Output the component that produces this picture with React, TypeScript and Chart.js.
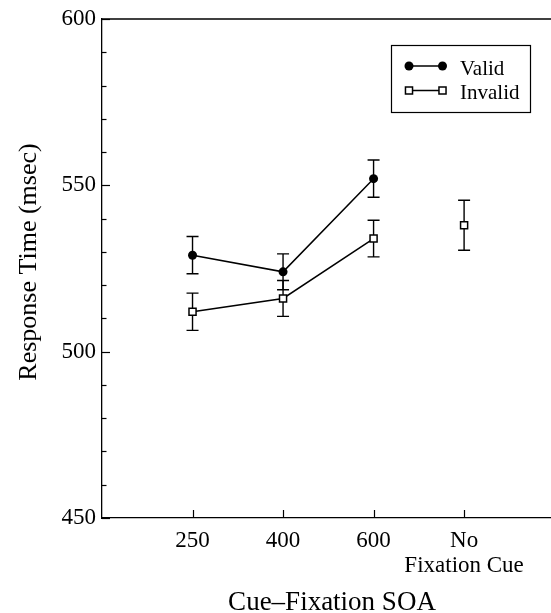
import React, { useEffect, useRef } from 'react';
import { Chart, registerables } from 'chart.js';

Chart.register(...registerables);

// ---- data ----
const categories: (string | string[])[] = ['250', '400', '600', ['No', 'Fixation Cue']];
const validMeans = [529, 524, 552];
const validErrors = [5.6, 5.4, 5.6];
const invalidMeans = [512, 516, 534];
const invalidErrors = [5.6, 5.4, 5.5];
const noCueMeans = [538];
const noCueErrors = [7.5];
const yTicks = [450, 500, 550, 600];
const seriesLabels = ['Valid', 'Invalid'];
const xTitle = 'Cue\u2013Fixation SOA';
const yTitle = 'Response Time (msec)';

const FONT = '"Liberation Serif", "Times New Roman", serif';

const decor = {
  id: 'decor',
  beforeDatasetsDraw(chart: any) {
    const ctx = chart.ctx;
    const ys = chart.scales.y;
    ctx.save();
    ctx.strokeStyle = '#000';
    ctx.lineWidth = 1.4;
    chart.data.datasets.forEach((ds: any, di: number) => {
      const errs = ds.errors;
      if (!errs) return;
      const meta = chart.getDatasetMeta(di);
      meta.data.forEach((pt: any, i: number) => {
        const v = ds.data[i].y;
        const e = errs[i];
        const x = pt.x;
        const yt = ys.getPixelForValue(v + e);
        const yb = ys.getPixelForValue(v - e);
        ctx.beginPath();
        ctx.moveTo(x, yt);
        ctx.lineTo(x, yb);
        ctx.moveTo(x - 6, yt);
        ctx.lineTo(x + 6, yt);
        ctx.moveTo(x - 6, yb);
        ctx.lineTo(x + 6, yb);
        ctx.stroke();
      });
    });
    ctx.restore();
  },
  afterDraw(chart: any) {
    const ctx = chart.ctx;
    const { left, right, top, bottom } = chart.chartArea;
    const ys = chart.scales.y;
    const xs = chart.scales.x;
    ctx.save();
    ctx.strokeStyle = '#000';
    ctx.fillStyle = '#000';
    ctx.lineWidth = 1.3;
    // top frame line
    ctx.beginPath();
    ctx.moveTo(left, top);
    ctx.lineTo(right, top);
    ctx.stroke();
    // inward y ticks (major + minor)
    ctx.lineWidth = 1.2;
    for (let v = ys.min; v <= ys.max; v += 10) {
      const py = Math.round(ys.getPixelForValue(v)) + 0.5;
      const len = v % 50 === 0 ? 8 : 4.5;
      ctx.beginPath();
      ctx.moveTo(left, py);
      ctx.lineTo(left + len, py);
      ctx.stroke();
    }
    // inward x ticks
    categories.forEach((_, i) => {
      const px = Math.round(xs.getPixelForValue(i + 1)) + 0.5;
      ctx.beginPath();
      ctx.moveTo(px, bottom);
      ctx.lineTo(px, bottom - 8);
      ctx.stroke();
    });
    // axis titles
    ctx.font = `27px ${FONT}`;
    ctx.textAlign = 'center';
    ctx.textBaseline = 'alphabetic';
    ctx.fillText(xTitle, 332, 610);
    ctx.font = `26px ${FONT}`;
    ctx.save();
    ctx.translate(36, 262);
    ctx.rotate(-Math.PI / 2);
    ctx.fillText(yTitle, 0, 0);
    ctx.restore();
    // legend
    ctx.lineWidth = 1.2;
    ctx.strokeRect(391.5, 45.5, 139, 67);
    const rows = [66, 90.5];
    const baselines = [75, 99];
    chart.data.datasets.slice(0, 2).forEach((ds: any, i: number) => {
      const yy = rows[i];
      const x1 = 409, x2 = 442.5;
      ctx.lineWidth = 1.5;
      ctx.strokeStyle = ds.borderColor;
      ctx.beginPath();
      ctx.moveTo(x1, yy);
      ctx.lineTo(x2, yy);
      ctx.stroke();
      [x1, x2].forEach((mx) => {
        if (ds.pointStyle === 'circle') {
          ctx.fillStyle = ds.pointBackgroundColor;
          ctx.beginPath();
          ctx.arc(mx, yy, ds.pointRadius, 0, Math.PI * 2);
          ctx.fill();
        } else {
          const s = Math.SQRT1_2 * ds.pointRadius;
          ctx.fillStyle = ds.pointBackgroundColor;
          ctx.lineWidth = ds.pointBorderWidth;
          ctx.strokeStyle = ds.pointBorderColor;
          ctx.beginPath();
          ctx.rect(mx - s, yy - s, 2 * s, 2 * s);
          ctx.fill();
          ctx.stroke();
        }
      });
      ctx.fillStyle = '#000';
      ctx.font = `21px ${FONT}`;
      ctx.textAlign = 'left';
      ctx.fillText(seriesLabels[i], 460, baselines[i]);
    });
    ctx.restore();
  },
};

export default function App() {
  const ref = useRef<HTMLCanvasElement>(null);
  useEffect(() => {
    if (!ref.current) return;
    const squareStyle = {
      pointStyle: 'rect',
      pointRadius: 5,
      pointBackgroundColor: '#fff',
      pointBorderColor: '#000',
      pointBorderWidth: 1.5,
    };
    const chart = new Chart(ref.current, {
      type: 'line',
      data: {
        datasets: [
          {
            label: seriesLabels[0],
            data: validMeans.map((v, i) => ({ x: i + 1, y: v })),
            errors: validErrors,
            borderColor: '#000',
            borderWidth: 1.5,
            pointStyle: 'circle',
            pointRadius: 4.5,
            pointBackgroundColor: '#000',
            pointBorderColor: '#000',
            pointBorderWidth: 0,
          } as any,
          {
            label: seriesLabels[1],
            data: invalidMeans.map((v, i) => ({ x: i + 1, y: v })),
            errors: invalidErrors,
            borderColor: '#000',
            borderWidth: 1.5,
            ...squareStyle,
          } as any,
          {
            label: seriesLabels[1],
            data: noCueMeans.map((v) => ({ x: categories.length, y: v })),
            errors: noCueErrors,
            borderColor: '#000',
            showLine: false,
            ...squareStyle,
          } as any,
        ],
      },
      options: {
        responsive: false,
        animation: false,
        layout: { autoPadding: false, padding: { top: 19, right: 0, left: 0, bottom: 0 } },
        plugins: { legend: { display: false }, tooltip: { enabled: false } },
        scales: {
          x: {
            type: 'linear',
            min: 0,
            max: 4.96,
            afterBuildTicks: (s: any) => {
              s.ticks = categories.map((_, i) => ({ value: i + 1 }));
            },
            afterFit: (s: any) => {
              s.height = 95;
              s.paddingLeft = 0;
              s.paddingRight = 0;
            },
            ticks: {
              callback: (v: any) => categories[Number(v) - 1] ?? '',
              font: { family: FONT, size: 23, lineHeight: 25 / 23 },
              color: '#000',
              padding: 10,
              maxRotation: 0,
              minRotation: 0,
              autoSkip: false,
            },
            grid: { display: false, drawTicks: false },
            border: { display: true, color: '#000', width: 1.3 },
          },
          y: {
            min: 450,
            max: 600,
            afterBuildTicks: (s: any) => {
              s.ticks = yTicks.map((v) => ({ value: v }));
            },
            afterFit: (s: any) => {
              s.width = 102;
              s.paddingTop = 0;
              s.paddingBottom = 0;
            },
            ticks: {
              font: { family: FONT, size: 23 },
              color: '#000',
              padding: 6,
            },
            grid: { display: false, drawTicks: false },
            border: { display: true, color: '#000', width: 1.3 },
          },
        },
      } as any,
      plugins: [decor],
    });
    return () => chart.destroy();
  }, []);
  return (
    <div style={{ position: 'absolute', left: 0, top: 0, width: 551, height: 613, background: '#fff' }}>
      <canvas ref={ref} width={551} height={613} style={{ display: 'block' }} />
    </div>
  );
}
